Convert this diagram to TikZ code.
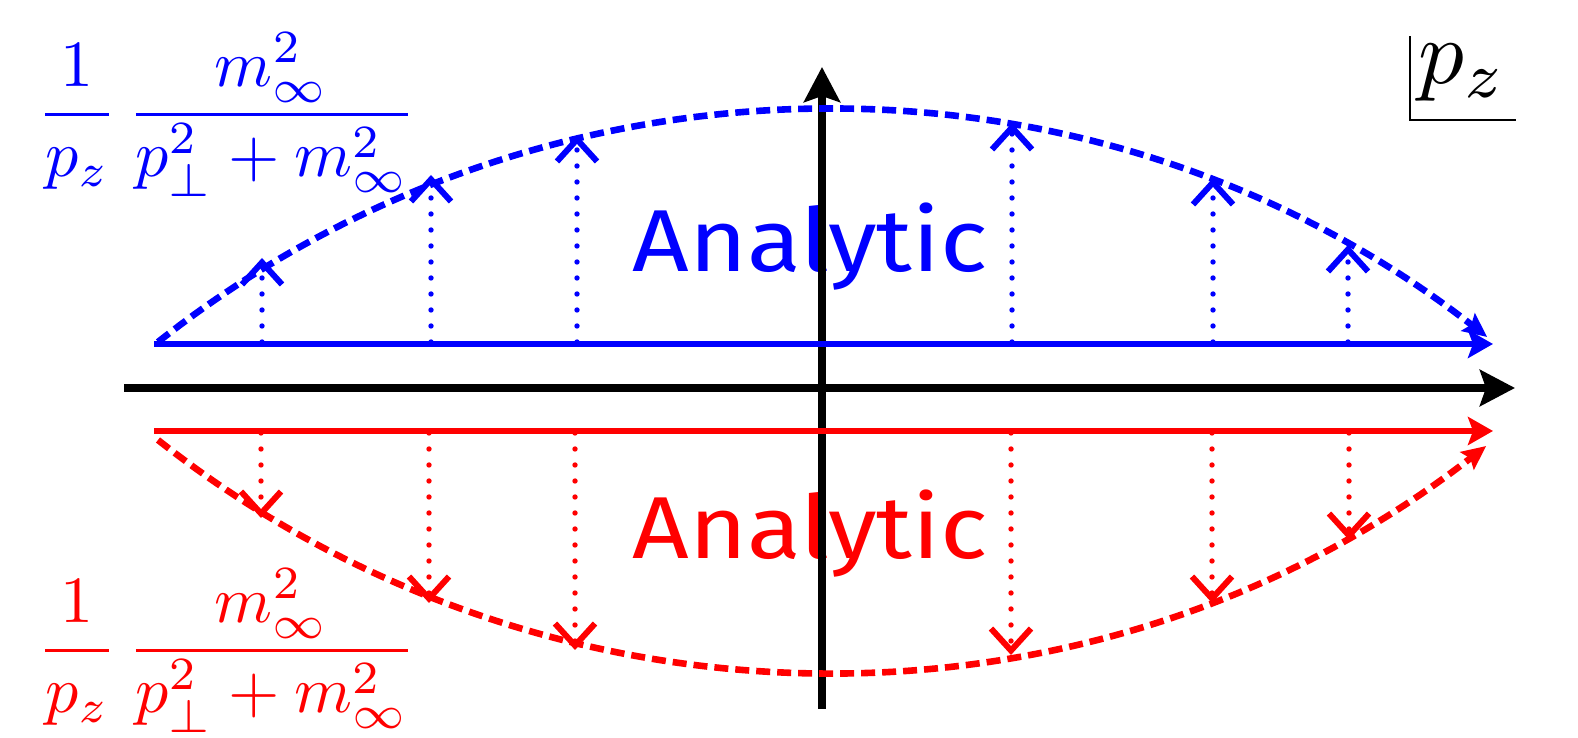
\documentclass[tikz,border=0pt]{standalone}
\usepackage{fontspec}
\newfontfamily\handfont{Fira Sans}
\usetikzlibrary{arrows.meta}
\begin{document}
\begin{tikzpicture}[x=0.5pt,y=0.5pt,
  axisline/.style={line width=4.2pt, -{Stealth[length=17.5pt,width=18pt,inset=3pt]}},
  pathline/.style={line width=3pt, -{Stealth[length=12.5pt,width=14pt,inset=2.5pt]}},
  curveline/.style={line width=3.3pt, dash pattern=on 7pt off 3.5pt, -{Stealth[length=12pt,width=11pt,inset=2pt]}},
  dotarrow/.style={line width=2.7pt, line cap=round, dash pattern=on 0pt off 8pt, -{Straight Barb[length=11pt,width=20pt,line width=3pt]}},
  formula/.style={anchor=base west, inner sep=0pt},
  analytic/.style={anchor=base, inner sep=0pt},
]
\useasboundingbox (0,0) rectangle (1578,738);

% texts
\node[analytic, text=blue] (ta) at (810,466) {\scalebox{4.95}[4.4]{\handfont Analytic}};
\node[analytic, text=red] (tb) at (810,179) {\scalebox{4.95}[4.4]{\handfont Analytic}};
\node[formula, text=blue] (fa) at (37,607) {\scalebox{3.3}{$\displaystyle\frac{1}{p_z}\,\frac{m_\infty^2}{p_\perp^2+m_\infty^2}$}};
\node[formula, text=red] (fb) at (37,71) {\scalebox{3.3}{$\displaystyle\frac{1}{p_z}\,\frac{m_\infty^2}{p_\perp^2+m_\infty^2}$}};
\node[anchor=base west, inner sep=0pt] (pz) at (1418,654) {\scalebox{4.56}{$p_z$}};
\draw[line width=1pt] ([shift={(-8,8)}]pz.north west) |- ([shift={(9,-18)}]pz.south east);

% axes
\coordinate (hx0) at (124,350);
\coordinate (hx1) at (1515,350);
\coordinate (vy0) at (822,29);
\coordinate (vy1) at (822,671);
\draw[axisline] (hx0) -- (hx1);
\draw[axisline] (vy0) -- (vy1);

% horizontal coloured lines
\coordinate (bl0) at (154,394);
\coordinate (bl1) at (1493,394);
\coordinate (rl0) at (154,307);
\coordinate (rl1) at (1493,307);
\draw[pathline, blue] (bl0) -- (bl1);
\draw[pathline, red] (rl0) -- (rl1);

% arcs
\coordinate (bc0) at (158,396);
\coordinate (rc0) at (158,298);
\draw[curveline, blue] (bc0) arc[start angle=128.33, end angle=52.1, radius=1076.7];
\draw[curveline, red] (rc0) arc[start angle=231.67, end angle=307.81, radius=1077];

% dotted arrows
\foreach \i/\x/\t in {1/262/480, 2/431/563, 3/577/603, 4/1012/615, 5/1213/560, 6/1348/493} {
  \coordinate (bd\i) at (\x,396);
  \coordinate (bt\i) at (\x,\t);
  \draw[dotarrow, blue] (bd\i) -- (bt\i);
}
\foreach \i/\x/\t in {1/261/220, 2/429/135, 3/575/88, 4/1011/83, 5/1212/135, 6/1349/198} {
  \coordinate (rd\i) at (\x,305);
  \coordinate (rt\i) at (\x,\t);
  \draw[dotarrow, red] (rd\i) -- (rt\i);
}
\end{tikzpicture}
\end{document}
